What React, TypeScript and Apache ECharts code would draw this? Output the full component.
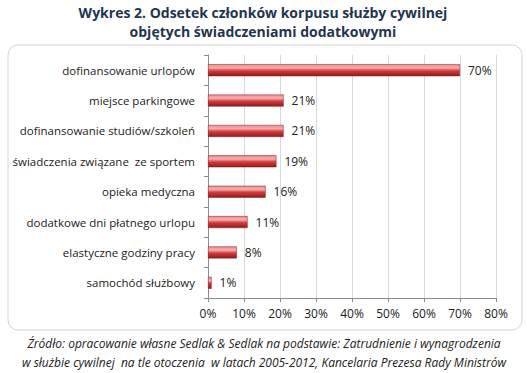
import React, { useEffect, useRef } from "react";
import * as echarts from "echarts";

const categories = [
  "dofinansowanie urlopów",
  "miejsce parkingowe",
  "dofinansowanie studiów/szkoleń",
  "świadczenia związane  ze sportem",
  "opieka medyczna",
  "dodatkowe dni płatnego urlopu",
  "elastyczne godziny pracy",
  "samochód służbowy",
];
const values = [70, 21, 21, 19, 16, 11, 8, 1];
const titleLines = [
  "Wykres 2. Odsetek członków korpusu służby cywilnej",
  "objętych świadczeniami dodatkowymi",
];
const sourceLines = [
  "Źródło: opracowanie własne Sedlak & Sedlak na podstawie: Zatrudnienie i wynagrodzenia",
  "w służbie cywilnej  na tle otoczenia  w latach 2005-2012, Kancelaria Prezesa Rady Ministrów",
];

export default function App() {
  const ref = useRef<HTMLDivElement>(null);
  useEffect(() => {
    if (!ref.current) return;
    const chart = echarts.init(ref.current, null, { renderer: "svg" });
    const font = "'Open Sans', 'Noto Sans', sans-serif";
    chart.setOption({
      animation: false,
      backgroundColor: "#ffffff",
      graphic: [
        {
          type: "rect",
          shape: { x: 8, y: 45, width: 514, height: 285, r: 10 },
          style: { fill: "none", stroke: "#d4d4d4", lineWidth: 1 },
          z: -1,
        },
        {
          type: "text",
          x: 263,
          y: 12,
          style: {
            text: titleLines[0],
            font: `bold 14px ${font}`,
            fill: "#1f3550",
            align: "center",
            verticalAlign: "middle",
          },
        },
        {
          type: "text",
          x: 263,
          y: 31,
          style: {
            text: titleLines[1],
            font: `bold 14px ${font}`,
            fill: "#1f3550",
            align: "center",
            verticalAlign: "middle",
          },
        },
        {
          type: "text",
          x: 264,
          y: 343,
          style: {
            text: sourceLines[0],
            font: `italic 12px ${font}`,
            fill: "#222",
            align: "center",
            verticalAlign: "middle",
          },
        },
        {
          type: "text",
          x: 264,
          y: 362,
          style: {
            text: sourceLines[1],
            font: `italic 12px ${font}`,
            fill: "#222",
            align: "center",
            verticalAlign: "middle",
          },
        },
      ],
      grid: { left: 208, right: 31, top: 55, bottom: 75 },
      xAxis: {
        type: "value",
        min: 0,
        max: 80,
        interval: 10,
        axisLabel: {
          formatter: "{value}%",
          fontFamily: font,
          fontSize: 12,
          color: "#222",
          margin: 9,
        },
        axisLine: { show: true, lineStyle: { color: "#8c8c8c" } },
        axisTick: { show: true, length: 4, lineStyle: { color: "#8c8c8c" } },
        splitLine: { show: true, lineStyle: { color: "#d9d9d9" } },
      },
      yAxis: {
        type: "category",
        data: categories,
        inverse: true,
        axisLabel: {
          fontFamily: font,
          fontSize: 11.5,
          color: "#222",
          margin: 13,
        },
        axisLine: { show: true, lineStyle: { color: "#8c8c8c" } },
        axisTick: { show: true, length: 4, lineStyle: { color: "#8c8c8c" } },
      },
      series: [
        {
          type: "bar",
          data: values,
          barWidth: 12,
          itemStyle: {
            color: new echarts.graphic.LinearGradient(0, 0, 0, 1, [
              { offset: 0, color: "#e88a8a" },
              { offset: 0.3, color: "#f6b0b0" },
              { offset: 0.55, color: "#d63c3c" },
              { offset: 1, color: "#8e1c1c" },
            ]),
            borderColor: "#8a1f1f",
            borderWidth: 0.5,
          },
          label: {
            show: true,
            position: "right",
            distance: 8,
            formatter: "{c}%",
            fontFamily: font,
            fontSize: 12,
            color: "#222",
          },
        },
      ],
    });
    return () => chart.dispose();
  }, []);
  return (
    <div
      ref={ref}
      style={{ position: "fixed", left: 0, top: 0, width: 527, height: 373 }}
    />
  );
}
